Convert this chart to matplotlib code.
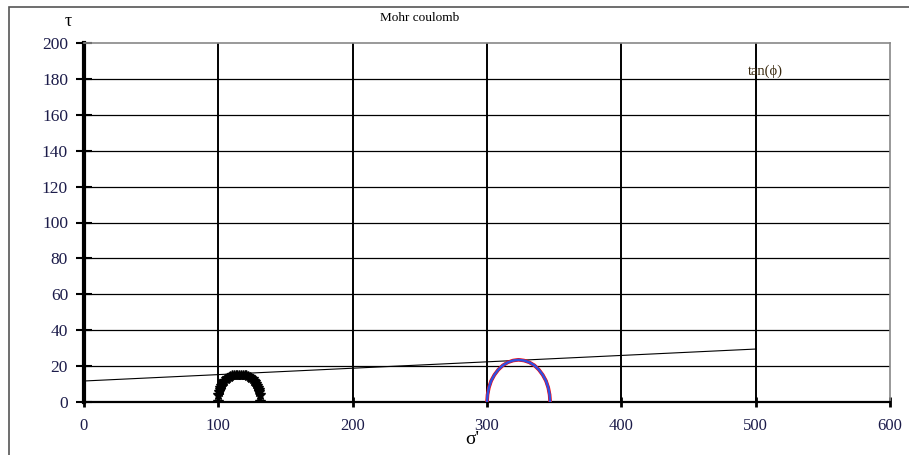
import matplotlib
matplotlib.use("Agg")
from matplotlib import pyplot as plt
from matplotlib.patches import Rectangle

# Mohr circle 1 (sigma', tau)
circle1_sigma = [100.0, 100.1, 100.5, 100.9, 101.5, 102.1, 102.8, 103.6, 104.5, 105.5, 106.6,
                 107.8, 109.0, 110.2, 111.5, 112.8, 114.1, 115.5, 116.9, 118.2, 119.5,
                 120.8, 122.0, 123.3, 124.4, 125.5, 126.5, 127.4, 128.2, 128.9, 129.5,
                 130.1, 130.5, 130.8, 131.0]
circle1_tau = [0.0, 4.0, 5.3, 6.5, 7.7, 8.8, 9.9, 10.9, 11.8, 12.6, 13.3,
               13.9, 14.4, 14.8, 15.1, 15.2, 15.3, 15.3, 15.3, 15.2, 15.1,
               14.8, 14.4, 13.9, 13.3, 12.6, 11.8, 10.9, 9.9, 8.8, 7.7,
               6.5, 5.3, 4.0, 0.0]

# Mohr circle 2
circle2_sigma = [300.0, 300.4, 301.4, 303.1, 305.5, 308.4, 311.8, 315.5, 319.4, 323.5,
                 327.6, 331.5, 335.3, 338.6, 341.5, 343.9, 345.6, 346.6, 347.0]
circle2_tau = [0.0, 4.1, 8.0, 11.8, 15.1, 18.0, 20.4, 22.1, 23.1, 23.5,
               23.1, 22.1, 20.4, 18.0, 15.1, 11.8, 8.0, 4.1, 0.0]

# failure envelope
envelope_sigma = [0, 500]
envelope_tau = [11.7, 29.5]

x_ticks = [0, 100, 200, 300, 400, 500, 600]
y_ticks = [0, 20, 40, 60, 80, 100, 120, 140, 160, 180, 200]

serif = ["Liberation Serif", "DejaVu Serif"]
label_color = "#1c1c4a"

fig = plt.figure(figsize=(9.09, 4.55), dpi=100)
ax = fig.add_axes([84 / 909, 1 - 402 / 455, 806 / 909, 359 / 455])

# outer chart frame (left and top edges visible)
fig.patches.append(Rectangle((9 / 909, -0.1), 1.2, 1 - 7 / 455 + 0.1,
                             transform=fig.transFigure, fill=False,
                             edgecolor="#555555", linewidth=1.2))

ax.set_xlim(0, 600)
ax.set_ylim(0, 200)

# grid lines
for x in x_ticks[1:-1]:
    ax.axvline(x, color="black", linewidth=1.4, zorder=1)
for y in y_ticks[1:-1]:
    ax.axhline(y, color="black", linewidth=0.9, zorder=1)

ax.plot(envelope_sigma, envelope_tau, color="black", linewidth=0.8, zorder=3)

ax.plot(circle1_sigma, circle1_tau, color="black", linewidth=2.5, marker="*",
        markersize=7, zorder=4)

ax.plot(circle2_sigma, circle2_tau, color="red", linewidth=2.6, zorder=4)
ax.plot(circle2_sigma, circle2_tau, color="#3050e0", linewidth=1.8, zorder=5)

ax.text(507, 184, "tan(ϕ)", fontsize=10.5, family=serif, ha="center",
        va="center", color="#3a2a10")

ax.spines["left"].set_linewidth(3)
ax.spines["left"].set_color("black")
ax.spines["bottom"].set_linewidth(1.6)
ax.spines["bottom"].set_color("black")
ax.spines["top"].set_color("#888888")
ax.spines["right"].set_color("#888888")
ax.spines["top"].set_linewidth(1.2)
ax.spines["right"].set_linewidth(1.2)

ax.set_xticks(x_ticks)
ax.set_yticks(y_ticks)
ax.tick_params(axis="y", direction="inout", length=11, width=1.5, pad=6,
               labelsize=12.5, labelcolor=label_color)
ax.tick_params(axis="x", direction="inout", length=7, width=2, pad=8,
               labelsize=12, labelcolor=label_color)
for lab in ax.get_xticklabels() + ax.get_yticklabels():
    lab.set_family(serif)

fig.text(420 / 909, 1 - 18 / 455, "Mohr coulomb", fontsize=9.5, family=serif,
         ha="center", va="center")
fig.text(68 / 909, 1 - 22 / 455, "τ", fontsize=13, family=serif,
         ha="center", va="center")
fig.text(472 / 909, 1 - 440 / 455, "σ'", fontsize=14, family=serif,
         ha="center", va="center")

fig.savefig("out.png", dpi=100)
